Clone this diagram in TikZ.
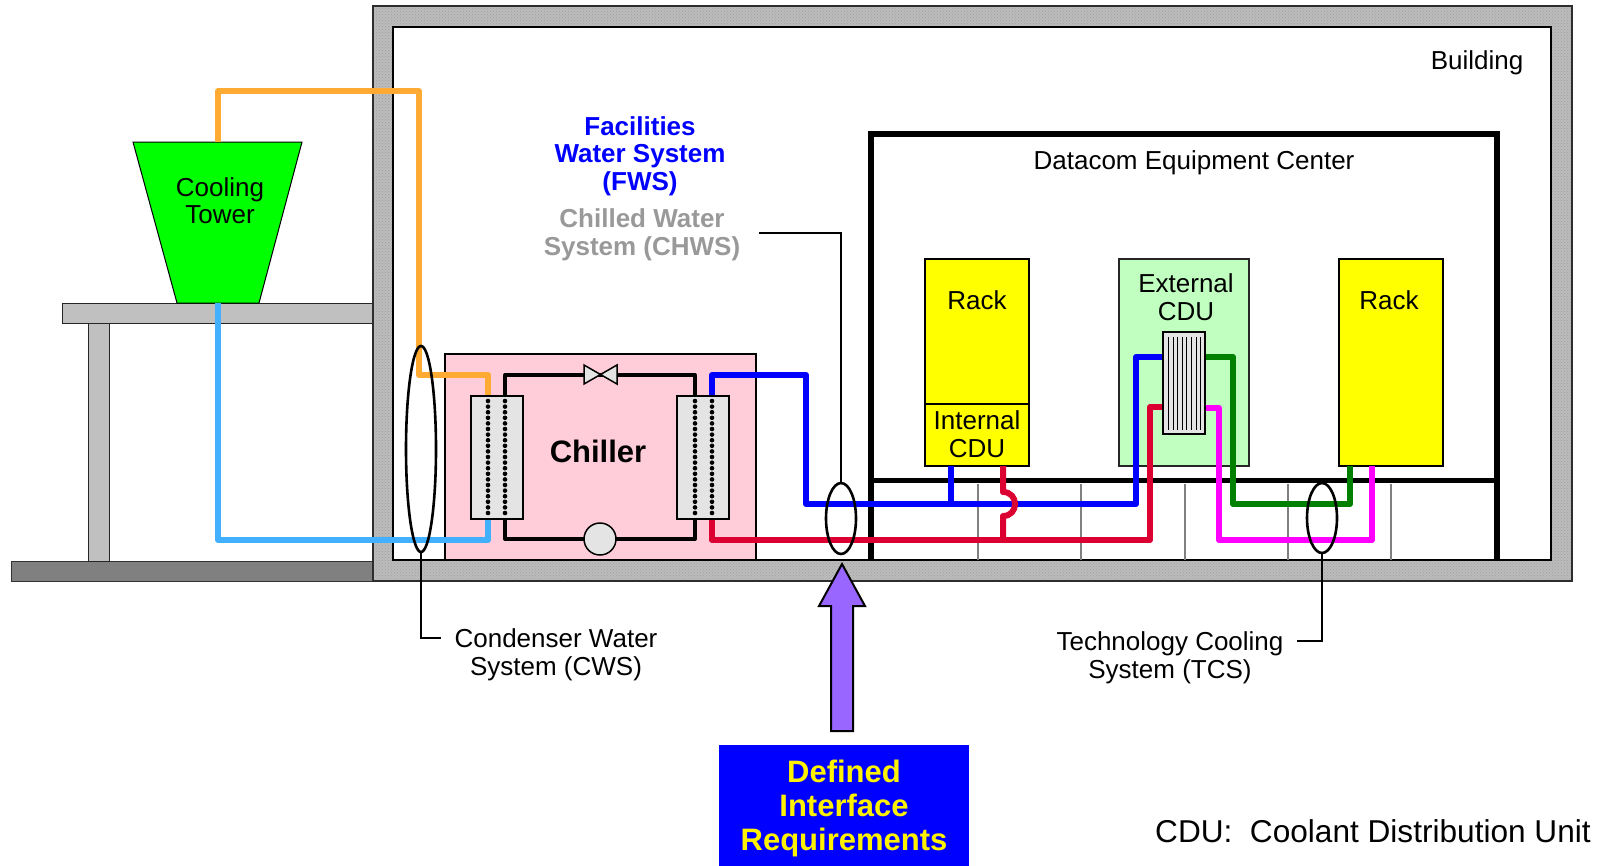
\documentclass[tikz,border=0pt]{standalone}
\usepackage{fontspec}
\setmainfont{Liberation Sans}
\usetikzlibrary{patterns,shapes.geometric}
\definecolor{wallgray}{RGB}{188,188,188}
\definecolor{cwsorange}{RGB}{255,170,51}
\definecolor{cwsblue}{RGB}{64,176,255}
\definecolor{fwsblue}{RGB}{0,0,255}
\definecolor{fwsred}{RGB}{220,0,50}
\definecolor{tcsgreen}{RGB}{0,128,0}
\definecolor{tcsmag}{RGB}{255,0,255}
\definecolor{chillpink}{RGB}{255,204,218}
\definecolor{hxgray}{RGB}{228,228,228}
\definecolor{tablegray}{RGB}{192,192,192}
\definecolor{groundgray}{RGB}{128,128,128}
\definecolor{towergreen}{RGB}{0,255,0}
\definecolor{rackyellow}{RGB}{255,255,0}
\definecolor{cdugreen}{RGB}{192,255,192}
\definecolor{arrowpurple}{RGB}{153,102,255}
\definecolor{chwsgray}{RGB}{153,153,153}
\tikzset{
  lbl/.style={font=\fontsize{26}{28}\selectfont, inner sep=0pt, align=center, anchor=base},
  boldlbl/.style={lbl, font=\bfseries\fontsize{26}{28}\selectfont},
  pipeline/.style={line width=6pt, line join=round, line cap=butt},
  boxline/.style={draw=black, line width=2pt, inner sep=0pt},
  hxbox/.style={draw=black, line width=1.5pt, fill=hxgray, inner sep=0pt},
  ring/.style={draw=black, line width=2.6pt, ellipse, inner sep=0pt},
  leader/.style={draw=black, line width=2.4pt},
  hxdots/.style={line width=4.6pt, line cap=round, dash pattern=on 0pt off 5.6pt},
  refrig/.style={line width=4pt, line join=round},
  tile/.style={draw=gray, line width=1.2pt}
}
\begin{document}
\begin{tikzpicture}[x=1pt,y=-1pt]
\useasboundingbox (0,0) rectangle (1600,865);
% ground and table
\draw[fill=groundgray, draw=gray!40!black, line width=1pt] (11,561) rectangle (373,581);
\draw[fill=tablegray, draw=gray!30!black, line width=1pt] (62,303) rectangle (373,323);
\draw[fill=tablegray, draw=gray!30!black, line width=1pt] (88,323) rectangle (109,561);
% building wall
\fill[wallgray, even odd rule] (373,6) rectangle (1572,581) (393,27) rectangle (1551,560);
\fill[pattern=crosshatch dots, pattern color=gray!75!white, even odd rule] (373,6) rectangle (1572,581) (393,27) rectangle (1551,560);
\draw[line width=1.2pt, draw=gray!35!black] (373,6) rectangle (1572,581);
\draw[line width=1.2pt, draw=black] (393,27) rectangle (1551,560);
\node[lbl] (building) at (1477,69) {Building};
% cooling tower
\draw[fill=towergreen, draw=black, line width=1pt] (133,142) -- (302,142) -- (259,303) -- (177,303) -- cycle;
\node[lbl, font=\fontsize{26}{27}\selectfont] (tower) at (220,223) {Cooling\\Tower};
% datacom equipment center
\draw[line width=5.5pt, line join=miter] (871,560) -- (871,134) -- (1497,134) -- (1497,560);
\draw[line width=5.5pt] (871,480.5) -- (1497,480.5);
\foreach \tx in {978,1081,1185,1288,1391} \draw[tile] (\tx,483.5) -- (\tx,560);
\node[lbl] (datacom) at (1194,169) {Datacom Equipment Center};
% racks and CDU
\node[boxline, fill=rackyellow, minimum width=104pt, minimum height=207pt] (rackA) at (977,362.5) {};
\draw[line width=2pt] (925,404) -- (1029,404);
\node[lbl] (rackAtext) at (977,309) {Rack};
\node[lbl] (intcdu) at (977,457) {Internal\\CDU};
\node[boxline, fill=cdugreen, draw=gray!30!black, minimum width=130pt, minimum height=207pt] (extcdu) at (1184,362.5) {};
\node[lbl] (extcdutext) at (1186,320) {External\\CDU};
\node[boxline, fill=rackyellow, minimum width=104pt, minimum height=207pt] (rackB) at (1391,362.5) {};
\node[lbl] (rackBtext) at (1389,309) {Rack};
% chiller
\node[boxline, fill=chillpink, line width=1.5pt, minimum width=311pt, minimum height=206pt] (chiller) at (600.5,457) {};
\node[lbl, font=\bfseries\fontsize{31}{34}\selectfont] (chillertext) at (598,462.5) {Chiller};
% refrigerant loop
\draw[refrig] (505,396) -- (505,375) -- (695,375) -- (695,396);
\draw[refrig] (505,519) -- (505,539) -- (695,539) -- (695,519);
\draw[fill=hxgray, draw=black, line width=1.5pt, line join=miter] (584,365) -- (584,384) -- (617,365) -- (617,384) -- cycle;
\node[hxbox, circle, minimum size=32pt] (compressor) at (600,539) {};
% condenser water pipes
\draw[pipeline, cwsorange] (218,142) -- (218,91) -- (419,91) -- (419,375) -- (488,375) -- (488,396);
\draw[pipeline, cwsblue] (218,303) -- (218,540) -- (488,540) -- (488,519);
% facility water pipes
\draw[pipeline, fwsblue] (712,396) -- (712,375) -- (806,375) -- (806,504) -- (1136,504) -- (1136,357) -- (1163,357);
\draw[pipeline, fwsblue] (951,466) -- (951,504);
\draw[pipeline, fwsred] (712,519) -- (712,540) -- (1150,540) -- (1150,407) -- (1163,407);
\draw[pipeline, fwsred] (1003,466) -- (1003,492) .. controls (1019,492) and (1019,516) .. (1003,516) -- (1003,540);
% technology cooling pipes
\draw[pipeline, tcsgreen] (1205,357) -- (1233,357) -- (1233,504) -- (1350,504) -- (1350,466);
\draw[pipeline, tcsmag] (1205,408) -- (1219,408) -- (1219,540) -- (1372,540) -- (1372,466);
% heat exchangers
\node[hxbox, minimum width=52pt, minimum height=123pt] (hxL) at (497,457.5) {};
\node[hxbox, minimum width=52pt, minimum height=123pt] (hxR) at (703,457.5) {};
\draw[hxdots] (488,401) -- (488,518);
\draw[hxdots] (505,401) -- (505,518);
\draw[hxdots] (695,401) -- (695,518);
\draw[hxdots] (712,401) -- (712,518);
\node[hxbox, line width=1.2pt, minimum width=42pt, minimum height=102pt] (hxC) at (1184,383) {};
\foreach \i in {0,...,7} \draw[line width=1pt] ({1168.5+\i*4.6},337) -- ({1168.5+\i*4.6},430);
% interface rings and leaders
\node[ring, minimum width=30pt, minimum height=206pt] (cwsring) at (421,449) {};
\node[ring, minimum width=30pt, minimum height=71pt] (fwsring) at (841,518.5) {};
\node[ring, minimum width=30pt, minimum height=70pt] (tcsring) at (1322,518) {};
\coordinate (cwsend) at (441,638);
\coordinate (fwsend) at (759,233);
\coordinate (tcsend) at (1297,641);
\draw[leader] (cwsring.south) |- (cwsend);
\draw[leader] (fwsring.north) |- (fwsend);
\draw[leader] (tcsring.south) |- (tcsend);
\node[lbl] (cwslabel) at (556,675) {Condenser Water\\System (CWS)};
\node[lbl, font=\fontsize{26}{27.5}\selectfont] (tcslabel) at (1170,678) {Technology Cooling\\System (TCS)};
\node[boldlbl, text=fwsblue, font=\bfseries\fontsize{26}{27.5}\selectfont] (fwslabel) at (640,190) {Facilities\\Water System\\(FWS)};
\node[boldlbl, text=chwsgray] (chwslabel) at (642,255.5) {Chilled Water\\System (CHWS)};
% interface arrow and box
\draw[fill=arrowpurple, draw=black, line width=2pt, line join=miter] (831,731) -- (831,606) -- (819,606) -- (842,564) -- (865,606) -- (853,606) -- (853,731) -- cycle;
\node[fill=fwsblue, inner sep=0pt, minimum width=250pt, minimum height=125pt, anchor=north west] (defbox) at (719,745) {};
\node[lbl, text=yellow, font=\bfseries\fontsize{31}{34}\selectfont] (deftext) at (844,850) {Defined\\Interface\\Requirements};
\node[lbl, anchor=base west, font=\fontsize{31.6}{33}\selectfont] (cdunote) at (1155,842) {CDU:\ \ Coolant Distribution Unit};
\end{tikzpicture}
\end{document}
